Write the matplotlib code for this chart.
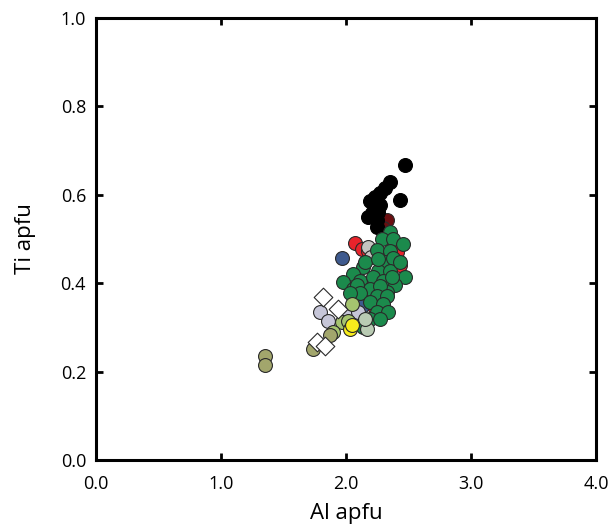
import matplotlib
matplotlib.use("Agg")
import matplotlib.pyplot as plt

plt.rcParams['font.family'] = ['Open Sans', 'DejaVu Sans']

# --- data (Al apfu, Ti apfu) per group ---
black_x = [2.47, 2.35, 2.31, 2.27, 2.23, 2.19, 2.43, 2.27, 2.26, 2.18, 2.25, 2.25, 2.21]
black_y = [0.668, 0.628, 0.616, 0.605, 0.596, 0.585, 0.589, 0.578, 0.562, 0.549, 0.544, 0.528, 0.560]

darkred_x = [2.33, 2.30]
darkred_y = [0.544, 0.526]

red_x = [2.07, 2.13, 2.18, 2.43, 2.41, 2.30, 2.23]
red_y = [0.492, 0.478, 0.472, 0.442, 0.470, 0.393, 0.345]

lgray_x = [2.18, 2.20]
lgray_y = [0.483, 0.460]

navy_x = [1.97, 2.13]
navy_y = [0.458, 0.348]

green_x = [2.35, 2.29, 2.38, 2.46, 2.25, 2.35, 2.31, 2.38, 2.26, 2.35, 2.47, 2.14,
           2.06, 1.98, 2.11, 2.22, 2.30, 2.39, 2.06, 2.19, 2.33, 2.09, 2.27, 2.11,
           2.25, 2.33, 2.19, 2.30, 2.25, 2.34, 2.19, 2.27, 2.14, 2.15, 2.26, 2.43,
           2.03, 2.37]
green_y = [0.517, 0.499, 0.499, 0.488, 0.476, 0.472, 0.449, 0.458, 0.427, 0.427, 0.415, 0.436,
           0.420, 0.402, 0.404, 0.413, 0.404, 0.397, 0.386, 0.386, 0.381, 0.397, 0.393, 0.379,
           0.370, 0.370, 0.357, 0.352, 0.336, 0.336, 0.318, 0.318, 0.302, 0.447, 0.454, 0.449,
           0.379, 0.415]

lav_x = [1.79, 1.86, 2.01, 2.10]
lav_y = [0.334, 0.314, 0.330, 0.334]

lgreen_x = [2.05, 1.97, 1.90, 2.02]
lgreen_y = [0.352, 0.312, 0.289, 0.314]

sage_x = [2.17, 2.15]
sage_y = [0.296, 0.320]

yellow_x = [2.03, 2.05]
yellow_y = [0.296, 0.305]

olive_x = [1.74, 1.35, 1.35, 1.87]
olive_y = [0.251, 0.235, 0.214, 0.282]

diam_x = [1.82, 1.94, 1.77, 1.83]
diam_y = [0.368, 0.341, 0.266, 0.257]

x_ticks = [0.0, 1.0, 2.0, 3.0, 4.0]
y_ticks = [0.0, 0.2, 0.4, 0.6, 0.8, 1.0]

fig = plt.figure(figsize=(6.1, 5.3), dpi=100)
ax = fig.add_axes([0.157, 0.132, 0.820, 0.834])

S = 100
EC = '#2a2a2a'
LW = 0.8

def sc(x, y, c, marker='o', z=2, ec=EC):
    ax.scatter(x, y, s=S, c=c, marker=marker, edgecolors=ec, linewidths=LW, zorder=z)

sc(red_x, red_y, '#e8232b', z=2)
sc(darkred_x, darkred_y, '#6a0e10', z=2)
sc(lgray_x, lgray_y, '#c4c4c0', z=2)
sc(navy_x, navy_y, '#3e5a8e', z=2)
sc(black_x, black_y, '#000000', z=3, ec='#000000')
sc(green_x, green_y, '#1b8a4c', z=3)
sc(lav_x, lav_y, '#c6c6d8', z=4)
sc(sage_x, sage_y, '#b9cbb3', z=4)
sc(lgreen_x, lgreen_y, '#a5c46f', z=4)
sc(yellow_x, yellow_y, '#f7ec1c', z=4)
sc(olive_x, olive_y, '#a2a66c', z=4)
ax.scatter(diam_x, diam_y, s=90, c='white', marker='D', edgecolors=EC,
           linewidths=LW, zorder=5)

ax.set_xlim(0, 4)
ax.set_ylim(0, 1)
ax.set_xticks(x_ticks)
ax.set_xticklabels([f"{v:.1f}" for v in x_ticks])
ax.set_yticks(y_ticks)
ax.set_yticklabels([f"{v:.1f}" for v in y_ticks])

for sp in ax.spines.values():
    sp.set_linewidth(2.2)
ax.tick_params(direction='in', length=5, width=2, top=True, right=True,
               labelsize=13, colors='black')
ax.tick_params(axis='x', pad=11)
ax.tick_params(axis='y', pad=7)

ax.set_xlabel('Al apfu', fontsize=16, labelpad=7)
ax.set_ylabel('Ti apfu', fontsize=16, labelpad=18)

fig.savefig('out.png', dpi=100)
